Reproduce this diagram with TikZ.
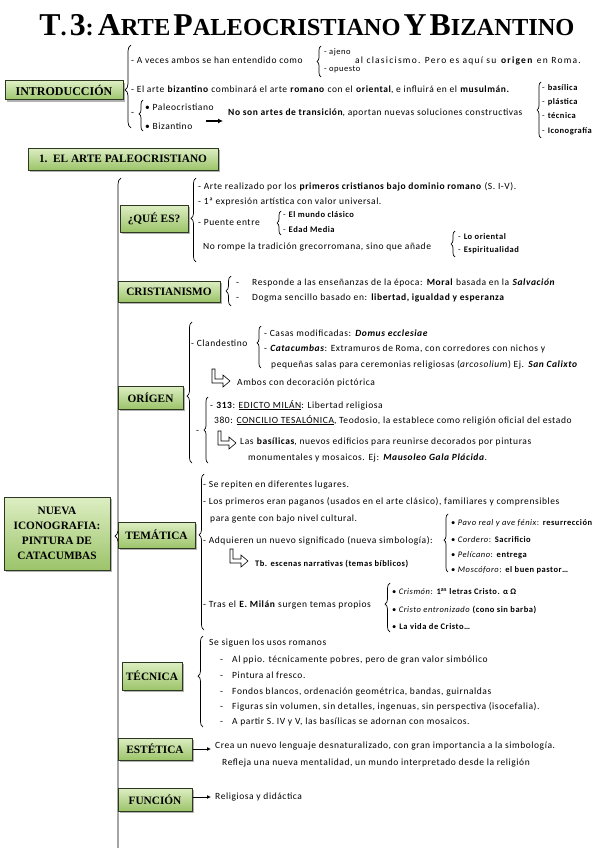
\documentclass[tikz,border=0pt]{standalone}
\usepackage{fontspec}
\usepackage{graphicx}
\setmainfont{Carlito}[LetterSpace=6]
\newfontfamily\boxfont{Liberation Serif}
\usetikzlibrary{decorations.pathreplacing,shadows,arrows.meta}
\definecolor{boxtop}{HTML}{DDEEC3}
\definecolor{boxbot}{HTML}{9CC46A}
\definecolor{boxline}{HTML}{2C3820}
\newcommand{\bi}[1]{\textbf{\textit{#1}}}
\newcommand{\tsc}[2]{{\fontsize{26}{26}\selectfont #1}{\fontsize{20}{20}\selectfont #2}}
\tikzset{
  lbl/.style={draw=boxline, line width=1pt, top color=boxtop, bottom color=boxbot,
    font=\boxfont\bfseries\fontsize{11.3}{13}\selectfont, inner sep=0pt, align=center,
    drop shadow={shadow xshift=1.6pt, shadow yshift=-1.6pt, fill=black!60}},
  txt/.style={anchor=base west, inner sep=0pt, font=\fontsize{9.5}{11}\selectfont},
  stxt/.style={anchor=base west, inner sep=0pt, font=\fontsize{8.5}{10}\selectfont},
  brc/.style={decorate, decoration={brace, amplitude=#1}, line width=0.7pt},
  hookarr/.pic={\draw[line width=0.6pt, fill=white] (0,0) -- (3,0) -- (3,10) -- (11,10) -- (11,6) -- (18,12) -- (11,18) -- (11,14) -- (0,14) -- cycle;},
  conn/.style={line width=0.8pt, -{Latex[length=4pt,width=4pt]}}
}
\begin{document}
\begin{tikzpicture}[x=1pt,y=-1pt]
\useasboundingbox (0,0) rectangle (599,848);
\fill[white] (0,0) rectangle (599,848);

% Title
\node[inner sep=0pt] (title) at (307,25) {\resizebox{535pt}{!}{\boxfont\bfseries \tsc{T}{.} \tsc{3}{:} \tsc{A}{RTE} \tsc{P}{ALEOCRISTIANO} \tsc{Y}{} \tsc{B}{IZANTINO}}};

% ---------- Introduccion ----------
\node[lbl, minimum width=118pt, minimum height=19pt, font=\boxfont\bfseries\fontsize{12}{13}\selectfont] (intro) at (64,90.5) {INTRODUCCIÓN};
\draw[brc=6pt, decoration={aspect=0.46}] (131,128) -- (131,45);
\node[txt] (ia) at (131,64) {- A veces ambos se han entendido como};
\draw[brc=4pt] (321,77) -- (321,46);
\node[stxt] (iaj) at (324,55) {- ajeno};
\node[stxt] (iop) at (324,72) {- opuesto};
\node[txt] (icl) at (355,64) {\addfontfeature{LetterSpace=13}al clasicismo. Pero es aquí su \textbf{origen} en Roma.};
\node[txt] (ibz) at (131,93) {- El arte \textbf{bizantino} combinará el arte \textbf{romano} con el \textbf{oriental}, e influirá en el \textbf{musulmán.}};
\node[txt] (idash) at (131,116) {-};
\draw[brc=4pt, decoration={aspect=0.55}] (143,131) -- (143,100);
\node[txt] (ipal) at (145,111) {\textbullet\ Paleocristiano};
\node[txt] (ibiz) at (145,130) {\textbullet\ Bizantino};
\coordinate (arS) at (206,121);
\coordinate (arE) at (223,121);
\draw[line width=1.3pt, -{Latex[length=5pt,width=5pt]}] (arS) -- (arE);
\node[txt] (ins) at (228,116) {\textbf{No son artes de transición}, aportan nuevas soluciones constructivas};
\draw[brc=4pt, decoration={aspect=0.5}] (541,138) -- (541,82);
\node[stxt] (l1) at (542,91) {- \textbf{basílica}};
\node[stxt] (l2) at (542,105) {- \textbf{plástica}};
\node[stxt] (l3) at (542,119) {- \textbf{técnica}};
\node[stxt] (l4) at (542,134) {- \textbf{Iconografía}};

% ---------- Section 1 ----------
\node[lbl, minimum width=190pt, minimum height=22pt] (sec1) at (123,159) {1.\ \ EL ARTE PALEOCRISTIANO};
\draw[brc=6pt, decoration={aspect=0.484}] (121,872) -- (121,178);

% Que es
\node[lbl, minimum width=68pt, minimum height=27pt] (quees) at (154,218.5) {¿QUÉ ES?};
\draw[brc=5pt, decoration={aspect=0.52}] (196,262) -- (196,178);
\node[txt] (q1) at (198,189) {- Arte realizado por los \textbf{primeros cristianos bajo dominio romano} (S. I-V).};
\node[txt] (q2) at (198,204) {- 1ª expresión artística con valor universal.};
\node[txt] (q3) at (198,225) {- Puente entre};
\draw[brc=4pt] (281,235) -- (281,211);
\node[stxt] (q3a) at (283,217) {- \textbf{El mundo clásico}};
\node[stxt] (q3b) at (283,232) {- \textbf{Edad Media}};
\node[txt] (q4) at (203,249) {No rompe la tradición grecorromana, sino que añade};
\draw[brc=4pt] (455,257) -- (455,231);
\node[stxt] (q4a) at (458,239) {- \textbf{Lo oriental}};
\node[stxt] (q4b) at (458,252) {- \textbf{Espiritualidad}};

% Cristianismo
\node[lbl, minimum width=102pt, minimum height=21pt] (crist) at (169,291.5) {CRISTIANISMO};
\draw[brc=5pt] (231,306) -- (231,276);
\node[txt] (c1d) at (236,285) {-};
\node[txt] (c1) at (252,285) {Responde a las enseñanzas de la época: \textbf{Moral} basada en la \bi{Salvación}};
\node[txt] (c2d) at (236,300) {-};
\node[txt] (c2) at (252,300) {Dogma sencillo basado en: \textbf{libertad, igualdad y esperanza}};

% Origen
\node[lbl, minimum width=65pt, minimum height=23pt] (origen) at (150.5,397.5) {ORÍGEN};
\draw[brc=5pt, decoration={aspect=0.475}] (192,463) -- (192,322);
\node[txt] (o1) at (191,346) {- Clandestino};
\draw[brc=4pt, decoration={aspect=0.6}] (261,368) -- (261,326);
\node[txt] (o1a) at (264,336) {- Casas modificadas: \bi{Domus ecclesiae}};
\node[txt] (o1b) at (264,351) {- \bi{Catacumbas}: Extramuros de Roma, con corredores con nichos y};
\node[txt] (o1c) at (271,367) {pequeñas salas para ceremonias religiosas (\textit{arcosolium}) Ej. \bi{San Calixto}};
\pic at (212,369) {hookarr};
\node[txt] (o1d) at (237,385) {Ambos con decoración pictórica};
\node[txt] (o2d) at (196,433) {-};
\draw[brc=4pt, decoration={aspect=0.5}] (208,463) -- (208,397);
\node[txt] (o2a) at (210,408) {- \textbf{313}: \underline{EDICTO MILÁN}: Libertad religiosa};
\node[txt] (o2b) at (214,423) {380: \underline{CONCILIO TESALÓNICA}, Teodosio, la establece como religión oficial del estado};
\pic at (218,431) {hookarr};
\node[txt] (o2c) at (240,444) {Las \textbf{basílicas}, nuevos edificios para reunirse decorados por pinturas};
\node[txt] (o2e) at (248,460) {monumentales y mosaicos. Ej: \bi{Mausoleo Gala Plácida}.};

% Nueva iconografia
\node[lbl, minimum width=106pt, minimum height=73pt, font=\boxfont\bfseries\fontsize{11.3}{14.8}\selectfont] (nueva) at (57,533.5) {NUEVA\\ICONOGRAFIA:\\PINTURA DE\\CATACUMBAS};

% Tematica
\node[lbl, minimum width=77pt, minimum height=26pt] (tema) at (156.5,535) {TEMÁTICA};
\draw[brc=5pt, decoration={aspect=0.61}] (204,630) -- (204,474);
\node[txt] (t1) at (203,487) {- Se repiten en diferentes lugares.};
\node[txt] (t2) at (203,504) {- Los primeros eran paganos (usados en el arte clásico), familiares y comprensibles};
\node[txt] (t3) at (210,521) {para gente con bajo nivel cultural.};
\node[txt] (t4) at (203,543) {- Adquieren un nuevo significado (nueva simbología):};
\draw[brc=4pt, decoration={aspect=0.55}] (448,572) -- (448,514);
\node[stxt] (t4a) at (451,525) {\textbullet\ \textit{Pavo real y ave fénix}: \textbf{resurrección}};
\node[stxt] (t4b) at (451,542) {\textbullet\ \textit{Cordero}: \textbf{Sacrificio}};
\node[stxt] (t4c) at (451,557) {\textbullet\ \textit{Pelícano}: \textbf{entrega}};
\node[stxt] (t4d) at (451,572) {\textbullet\ \textit{Moscóforo}: \textbf{el buen pastor…}};
\pic at (230,549) {hookarr};
\node[stxt] (t5) at (255,566) {\textbf{Tb. escenas narrativas (temas bíblicos)}};
\node[txt] (t6) at (203,607) {- Tras el \textbf{E. Milán} surgen temas propios};
\draw[brc=5pt, decoration={aspect=0.57}] (390,632) -- (390,583);
\node[stxt] (t6a) at (392,594) {\textbullet\ \textit{Crismón}: \textbf{1\textsuperscript{as} letras Cristo. α Ω}};
\node[stxt] (t6b) at (392,612) {\textbullet\ \textit{Cristo entronizado} \textbf{(cono sin barba)}};
\node[stxt] (t6c) at (392,629) {\textbullet\ \textbf{La vida de Cristo…}};

% Tecnica
\node[lbl, minimum width=60pt, minimum height=28pt] (tecn) at (152,676) {TÉCNICA};
\draw[brc=5pt, decoration={aspect=0.56}] (203,727) -- (203,636);
\node[txt] (k0) at (209,645) {Se siguen los usos romanos};
\node[txt] (k1d) at (220,662) {-};
\node[txt] (k1) at (232,662) {Al ppio. técnicamente pobres, pero de gran valor simbólico};
\node[txt] (k2d) at (220,678) {-};
\node[txt] (k2) at (232,678) {Pintura al fresco.};
\node[txt] (k3d) at (220,694) {-};
\node[txt] (k3) at (232,694) {Fondos blancos, ordenación geométrica, bandas, guirnaldas};
\node[txt] (k4d) at (220,709) {-};
\node[txt] (k4) at (232,709) {Figuras sin volumen, sin detalles, ingenuas, sin perspectiva (isocefalia).};
\node[txt] (k5d) at (220,724) {-};
\node[txt] (k5) at (232,724) {A partir S. IV y V, las basílicas se adornan con mosaicos.};

% Estetica
\node[lbl, minimum width=74pt, minimum height=22pt] (estet) at (155,749) {ESTÉTICA};
\coordinate (estE) at (211,749);
\draw[conn] (estet.east) -- (estE);
\node[txt] (e1) at (215,748) {Crea un nuevo lenguaje desnaturalizado, con gran importancia a la simbología.};
\node[txt] (e2) at (222,765) {Refleja una nueva mentalidad, un mundo interpretado desde la religión};

% Funcion
\node[lbl, minimum width=74pt, minimum height=23pt] (func) at (155,799.5) {FUNCIÓN};
\coordinate (funE) at (211,797);
\draw[conn] (func.east|-funE) -- (funE);
\node[txt] (f1) at (215,799) {Religiosa y didáctica};
\end{tikzpicture}
\end{document}
